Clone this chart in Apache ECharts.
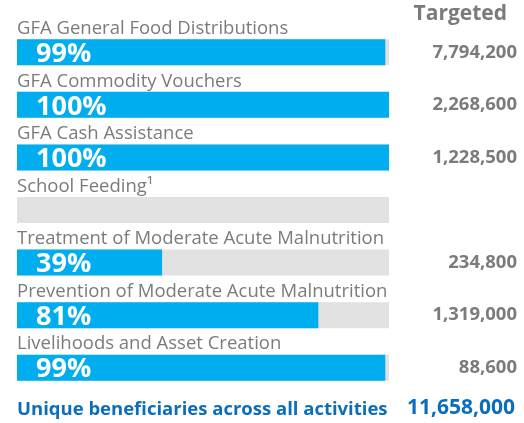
<!DOCTYPE html>
<html><head><meta charset="utf-8">
<script src="https://cdn.jsdelivr.net/npm/echarts@6/dist/echarts.min.js"></script>
<style>html,body{margin:0;padding:0;background:#fff}#c{width:524px;height:423px}</style>
</head><body><div id="c"></div>
<script>
const categories = ["GFA General Food Distributions","GFA Commodity Vouchers","GFA Cash Assistance","School Feeding\u00B9","Treatment of Moderate Acute Malnutrition","Prevention of Moderate Acute Malnutrition","Livelihoods and Asset Creation"];
const percentReached = [99,100,100,null,39,81,99];
const targeted = ["7,794,200","2,268,600","1,228,500","","234,800","1,319,000","88,600"];
const headerLabel = "Targeted";
const totalLabel = "Unique beneficiaries across all activities";
const totalValue = "11,658,000";

const FONT = "'Open Sans', sans-serif";
const chart = echarts.init(document.getElementById('c'), null, {renderer:'canvas'});
chart.setOption({
  animation:false,
  grid:{left:17,right:135,top:26,height:368},
  xAxis:{type:'value',min:0,max:100,show:false},
  yAxis:[{
    type:'category',data:categories,inverse:true,show:true,
    axisLine:{show:false},axisTick:{show:false},axisLabel:{show:false}
  },{
    type:'category',data:targeted,inverse:true,position:'right',
    axisLine:{show:false},axisTick:{show:false},
    axisLabel:{margin:128,align:'right',color:'#7b7b7b',fontSize:18.5,fontWeight:'bold',fontFamily:FONT}
  }],
  title:[{text:headerLabel,right:12,top:-1,textStyle:{color:'#7b7b7b',fontSize:21,fontWeight:'bold',fontFamily:FONT}}],
  graphic:[
    {type:'text',left:17,top:400,style:{text:totalLabel,fill:'#0a6ebd',font:"bold 18.5px 'Open Sans'"}},
    {type:'text',right:9,top:398,style:{text:totalValue,fill:'#0a6ebd',font:"bold 21px 'Open Sans'"}}
  ],
  series:[{
    type:'bar',data:categories.map(()=>100),barWidth:26,silent:true,
    itemStyle:{color:'#e1e1e1'},z:1,
    label:{show:true,position:[0,-1],align:'left',verticalAlign:'bottom',formatter:p=>p.name,
      color:'#7b7b7b',fontSize:18.5,fontFamily:FONT}
  },{
    type:'bar',data:percentReached,barWidth:26,barGap:'-100%',
    itemStyle:{color:'#00aeef'},z:2,
    label:{show:true,position:'insideLeft',distance:19,formatter:p=>p.value==null?'':p.value+'%',
      color:'#fff',fontSize:27,fontWeight:'bold',fontFamily:FONT,offset:[0,2]}
  }]
});
</script></body></html>
